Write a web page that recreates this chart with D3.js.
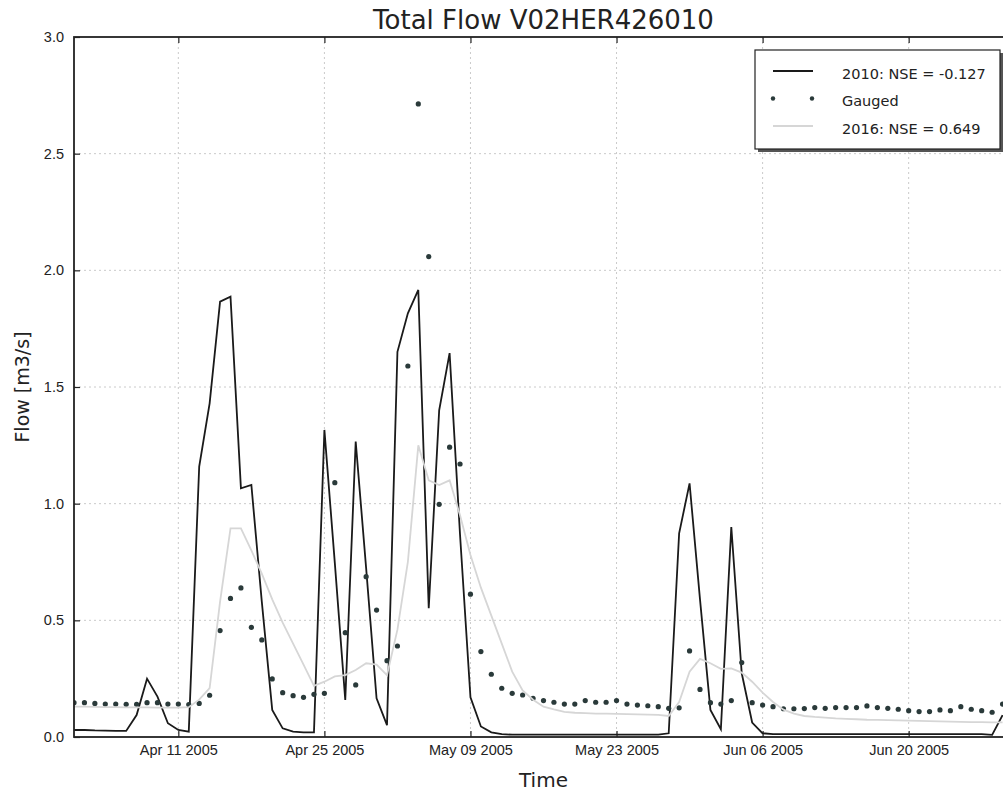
<!DOCTYPE html>
<html>
<head>
<meta charset="utf-8">
<script src="https://cdn.jsdelivr.net/npm/d3@7"></script>
<style>
  body { margin: 0; background: #fff; }
  svg { font-family: "DejaVu Sans", sans-serif; }
  .axis path { display: none; }
  .axis text { font-size: 14.5px; fill: #222; }
  .axis line { stroke: #222; stroke-width: 1.2; }
</style>
</head>
<body>
<svg id="chart" width="1003" height="796"></svg>
<script>
// daily values starting 1 Apr 2005
var startDate = new Date(2005, 3, 1);

var model2010 = [
  0.030, 0.030, 0.028, 0.027, 0.026, 0.026, 0.094, 0.250, 0.173, 0.059,
  0.030, 0.023, 1.159, 1.430, 1.866, 1.887, 1.066, 1.080, 0.580, 0.116,
  0.037, 0.023, 0.020, 0.020, 1.316, 0.745, 0.159, 1.266, 0.724, 0.166,
  0.051, 1.651, 1.816, 1.916, 0.552, 1.400, 1.645, 0.867, 0.170, 0.045,
  0.020, 0.012, 0.010, 0.010, 0.010, 0.010, 0.010, 0.010, 0.010, 0.010,
  0.010, 0.010, 0.010, 0.010, 0.010, 0.010, 0.010, 0.016, 0.873, 1.087,
  0.590, 0.116, 0.033, 0.900, 0.273, 0.062, 0.016, 0.012, 0.012, 0.012,
  0.012, 0.012, 0.012, 0.012, 0.012, 0.012, 0.012, 0.012, 0.012, 0.012,
  0.012, 0.012, 0.012, 0.012, 0.012, 0.012, 0.012, 0.012, 0.009, 0.094
];

var gauged = [
  0.147, 0.147, 0.144, 0.141, 0.141, 0.140, 0.140, 0.147, 0.147, 0.141,
  0.141, 0.139, 0.144, 0.179, 0.456, 0.594, 0.639, 0.470, 0.416, 0.249,
  0.190, 0.177, 0.170, 0.183, 0.187, 1.090, 0.447, 0.223, 0.687, 0.544,
  0.327, 0.390, 1.590, 2.713, 2.059, 0.997, 1.242, 1.170, 0.612, 0.366,
  0.269, 0.209, 0.187, 0.180, 0.166, 0.156, 0.149, 0.141, 0.141, 0.156,
  0.149, 0.149, 0.156, 0.141, 0.137, 0.134, 0.130, 0.123, 0.125, 0.369,
  0.204, 0.147, 0.141, 0.156, 0.319, 0.147, 0.137, 0.130, 0.121, 0.121,
  0.122, 0.126, 0.123, 0.126, 0.126, 0.126, 0.133, 0.126, 0.123, 0.119,
  0.113, 0.109, 0.109, 0.116, 0.113, 0.130, 0.119, 0.113, 0.106, 0.141
];

var model2016 = [
  0.130, 0.130, 0.129, 0.128, 0.128, 0.127, 0.127, 0.127, 0.126, 0.126,
  0.126, 0.128, 0.160, 0.210, 0.580, 0.894, 0.894, 0.800, 0.700, 0.590,
  0.490, 0.400, 0.310, 0.219, 0.237, 0.260, 0.265, 0.287, 0.316, 0.310,
  0.265, 0.460, 0.750, 1.250, 1.100, 1.080, 1.100, 0.950, 0.780, 0.640,
  0.520, 0.400, 0.280, 0.200, 0.160, 0.130, 0.118, 0.108, 0.104, 0.102,
  0.100, 0.100, 0.099, 0.098, 0.097, 0.096, 0.095, 0.090, 0.150, 0.280,
  0.335, 0.316, 0.292, 0.294, 0.276, 0.237, 0.190, 0.150, 0.117, 0.100,
  0.090, 0.086, 0.083, 0.080, 0.078, 0.076, 0.074, 0.073, 0.072, 0.071,
  0.070, 0.069, 0.068, 0.067, 0.066, 0.065, 0.064, 0.064, 0.063, 0.063
];

var xTicks = ["2005-04-11", "2005-04-25", "2005-05-09", "2005-05-23", "2005-06-06", "2005-06-20"];
var yTicks = [0, 0.5, 1.0, 1.5, 2.0, 2.5, 3.0];
var legendLabels = ["2010: NSE = -0.127", "Gauged", "2016: NSE = 0.649"];

function draw_chart() {
    var svg = d3.select("svg");
    var margin = { top: 37, left: 74, bottom: 59 };
    var plotRight = 1013;
    var height = +svg.attr("height") - margin.top - margin.bottom;
    var width = plotRight - margin.left;

    var dates = model2010.map(function (d, i) { return d3.timeDay.offset(startDate, i); });
    var parse = d3.timeParse("%Y-%m-%d");

    var x = d3.scaleTime()
        .domain([startDate, new Date(2005, 5, 30)])
        .range([0, width]);
    var y = d3.scaleLinear()
        .domain([0, 3])
        .range([height, 0]);

    var g = svg.append("g")
        .attr("transform", "translate(" + margin.left + "," + margin.top + ")");

    svg.append("defs").append("clipPath").attr("id", "clip")
        .append("rect").attr("width", width).attr("height", height);

    // grid
    var grid = g.append("g");
    grid.selectAll(".gx").data(xTicks).enter().append("line")
        .attr("x1", function (d) { return x(parse(d)); })
        .attr("x2", function (d) { return x(parse(d)); })
        .attr("y1", 0).attr("y2", height)
        .attr("stroke", "#cacaca").attr("stroke-dasharray", "2,3");
    grid.selectAll(".gy").data(yTicks.slice(1, -1)).enter().append("line")
        .attr("x1", 0).attr("x2", width)
        .attr("y1", function (d) { return y(d); })
        .attr("y2", function (d) { return y(d); })
        .attr("stroke", "#cacaca").attr("stroke-dasharray", "2,3");

    var fmt = d3.timeFormat("%b %d %Y");

    g.append("g")
        .attr("class", "axis")
        .attr("transform", "translate(0," + height + ")")
        .call(d3.axisBottom(x).tickValues(xTicks.map(parse)).tickFormat(fmt).tickSizeInner(-6).tickPadding(8));
    g.append("g")
        .attr("class", "axis")
        .call(d3.axisTop(x).tickValues(xTicks.map(parse)).tickFormat("").tickSizeInner(-6));
    g.append("g")
        .attr("class", "axis")
        .call(d3.axisLeft(y).tickValues(yTicks).tickFormat(d3.format(".1f")).tickSizeInner(-6).tickPadding(10));

    var plot = g.append("g").attr("clip-path", "url(#clip)");

    var line = d3.line()
        .x(function (d, i) { return x(dates[i]); })
        .y(function (d) { return y(d); });

    plot.append("path")
        .datum(model2010)
        .attr("d", line)
        .attr("fill", "none")
        .attr("stroke", "#1a1a1a")
        .attr("stroke-width", 1.8);

    plot.selectAll("circle.gauged")
        .data(gauged)
        .enter().append("circle")
        .attr("class", "gauged")
        .attr("cx", function (d, i) { return x(dates[i]); })
        .attr("cy", function (d) { return y(d); })
        .attr("r", 2.6)
        .attr("fill", "#2a3a3a");

    plot.append("path")
        .datum(model2016)
        .attr("d", line)
        .attr("fill", "none")
        .attr("stroke", "#d6d6d6")
        .attr("stroke-width", 1.8);

    // frame
    g.append("rect")
        .attr("width", width).attr("height", height)
        .attr("fill", "none").attr("stroke", "#222").attr("stroke-width", 1.8);

    // title and labels
    svg.append("text")
        .attr("x", margin.left + width / 2).attr("y", 29)
        .attr("text-anchor", "middle")
        .style("font-size", "26px").style("fill", "#222")
        .text("Total Flow V02HER426010");
    svg.append("text")
        .attr("x", margin.left + width / 2).attr("y", 787)
        .attr("text-anchor", "middle")
        .style("font-size", "20px").style("fill", "#222")
        .text("Time");
    svg.append("text")
        .attr("transform", "rotate(-90)")
        .attr("x", -(margin.top + height / 2)).attr("y", 29)
        .attr("text-anchor", "middle")
        .style("font-size", "19px").style("fill", "#222")
        .text("Flow [m3/s]");

    // legend
    var lg = svg.append("g").attr("transform", "translate(755,50)");
    lg.append("rect").attr("x", 3).attr("y", 3).attr("width", 245).attr("height", 99).attr("fill", "#555");
    lg.append("rect").attr("width", 245).attr("height", 99)
        .attr("fill", "#fff").attr("stroke", "#222").attr("stroke-width", 1.2);

    var rows = lg.selectAll(".row").data(legendLabels).enter().append("g")
        .attr("transform", function (d, i) { return "translate(0," + (21 + i * 27.5) + ")"; });
    rows.append("text")
        .attr("x", 87).attr("dy", "0.55em")
        .style("font-size", "14.5px").style("fill", "#222")
        .text(function (d) { return d; });

    lg.append("line").attr("x1", 18).attr("x2", 58).attr("y1", 21).attr("y2", 21)
        .attr("stroke", "#1a1a1a").attr("stroke-width", 1.8);
    lg.selectAll(".lgdot").data([18, 57]).enter().append("circle")
        .attr("cx", function (d) { return d; }).attr("cy", 48.5).attr("r", 2.2).attr("fill", "#2a3a3a");
    lg.append("line").attr("x1", 18).attr("x2", 58).attr("y1", 76).attr("y2", 76)
        .attr("stroke", "#d6d6d6").attr("stroke-width", 1.8);
}

draw_chart();
</script>
</body>
</html>
